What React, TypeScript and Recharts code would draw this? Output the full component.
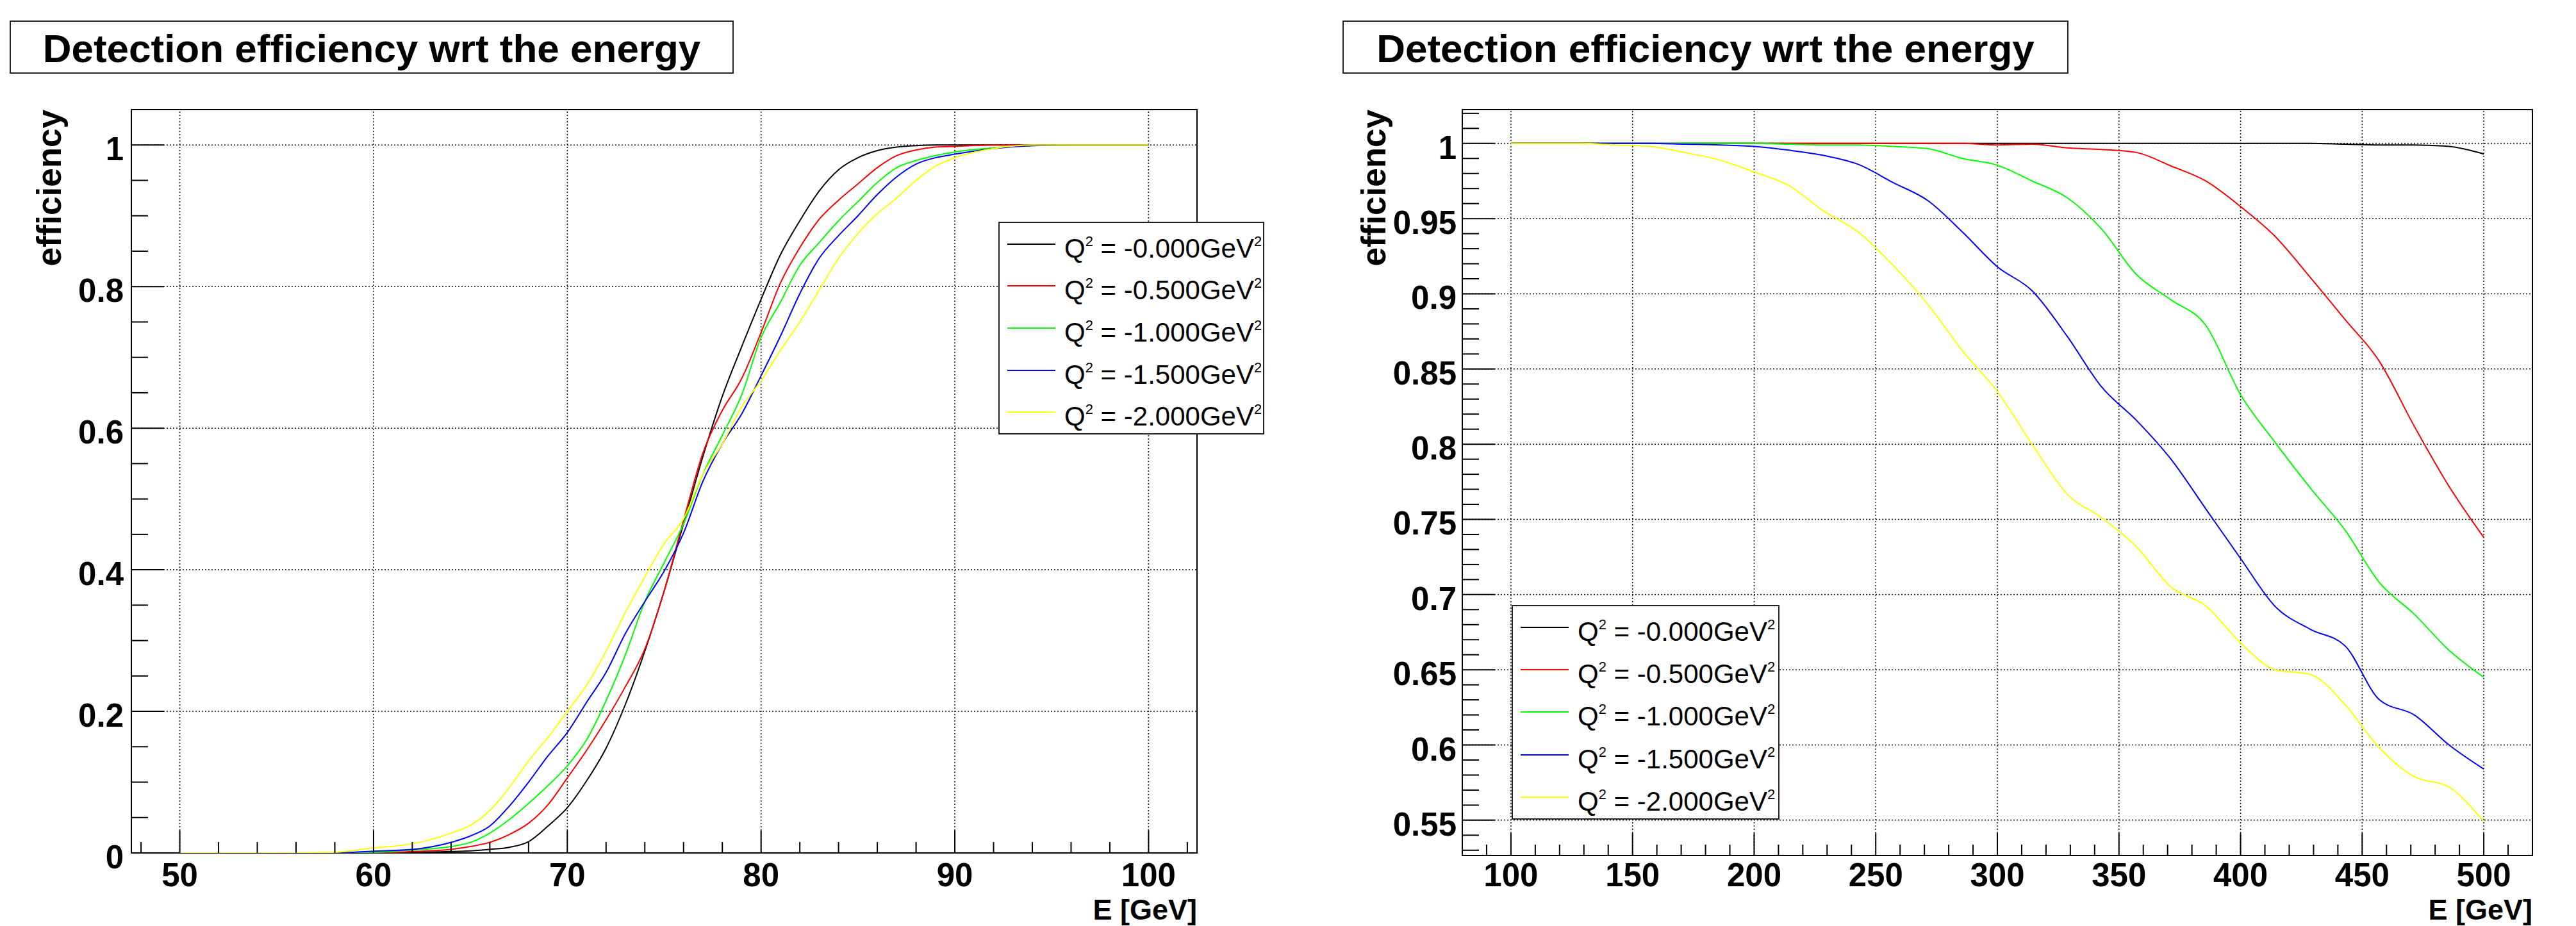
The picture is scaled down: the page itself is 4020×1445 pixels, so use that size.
import React from 'react'
import { LineChart, Line, XAxis, YAxis, ReferenceLine, ReferenceArea, Legend, Label } from 'recharts'

const FONT = '"Liberation Sans", Arial, Helvetica, sans-serif'

// series shared by both pads
const seriesKeys = ['q0', 'q05', 'q10', 'q15', 'q20']
const qLabels = ['-0.000', '-0.500', '-1.000', '-1.500', '-2.000']
const seriesColors = ['#000000', '#ff0000', '#00ff00', '#0000ff', '#ffff00']

// left pad: 50 - 100 GeV
const energyLow = [50, 55, 58, 60, 62, 64, 65, 66, 67, 68, 69, 70, 71, 72, 73, 74, 75, 76, 77, 78, 79, 80, 81, 82, 83, 84, 85, 86, 87, 88, 89, 90, 92, 94, 96, 100]
const lowQ0 = [0, 0, 0, 0, 0.001, 0.002, 0.003, 0.005, 0.008, 0.016, 0.038, 0.064, 0.102, 0.148, 0.21, 0.285, 0.37, 0.465, 0.56, 0.645, 0.715, 0.782, 0.845, 0.893, 0.935, 0.965, 0.982, 0.992, 0.997, 0.999, 1, 1, 1, 1, 1, 1]
const lowQ05 = [0, 0, 0, 0, 0.002, 0.005, 0.009, 0.015, 0.026, 0.042, 0.068, 0.106, 0.145, 0.188, 0.235, 0.288, 0.37, 0.47, 0.565, 0.625, 0.67, 0.735, 0.805, 0.855, 0.895, 0.922, 0.945, 0.968, 0.985, 0.993, 0.997, 0.998, 1, 1, 1, 1]
const lowQ10 = [0, 0, 0, 0.001, 0.004, 0.009, 0.015, 0.028, 0.047, 0.07, 0.095, 0.123, 0.16, 0.215, 0.28, 0.355, 0.41, 0.465, 0.535, 0.59, 0.647, 0.728, 0.778, 0.83, 0.862, 0.893, 0.92, 0.947, 0.968, 0.978, 0.985, 0.99, 0.996, 0.999, 1, 1]
const lowQ15 = [0, 0, 0, 0.0025, 0.005, 0.015, 0.024, 0.038, 0.066, 0.1, 0.137, 0.17, 0.213, 0.255, 0.31, 0.355, 0.398, 0.452, 0.525, 0.578, 0.62, 0.674, 0.73, 0.79, 0.84, 0.872, 0.9, 0.93, 0.955, 0.973, 0.982, 0.987, 0.995, 0.999, 1, 1]
const lowQ20 = [0, 0, 0.001, 0.007, 0.013, 0.028, 0.039, 0.06, 0.092, 0.13, 0.163, 0.2, 0.237, 0.285, 0.34, 0.39, 0.437, 0.472, 0.535, 0.578, 0.63, 0.667, 0.71, 0.75, 0.795, 0.84, 0.875, 0.903, 0.925, 0.95, 0.97, 0.982, 0.995, 1, 1, 1]
const lowXMajor = [50, 60, 70, 80, 90, 100]
const lowYMajor = [0, 0.2, 0.4, 0.6, 0.8, 1]

// right pad: 100 - 500 GeV
const energyHigh = [100, 114.3, 128.6, 142.9, 157.1, 171.4, 185.7, 200, 214.3, 228.6, 242.9, 257.1, 271.4, 285.7, 300, 314.3, 328.6, 342.9, 357.1, 371.4, 385.7, 400, 414.3, 428.6, 442.9, 457.1, 471.4, 485.7, 500]
const highQ0 = [1, 1, 1, 1, 1, 1, 1, 1, 1, 1, 1, 1, 1, 1, 1, 1, 1, 1, 1, 1, 1, 1, 1, 1, 0.9995, 0.999, 0.999, 0.998, 0.993]
const highQ05 = [1, 1, 1, 1, 1, 1, 1, 1, 1, 1, 1, 1, 1, 1, 0.999, 0.9995, 0.997, 0.996, 0.994, 0.985, 0.975, 0.958, 0.938, 0.911, 0.883, 0.855, 0.812, 0.772, 0.738]
const highQ10 = [1, 1, 1, 1, 1, 1, 1, 1, 0.9995, 0.999, 0.999, 0.998, 0.9965, 0.99, 0.9855, 0.975, 0.964, 0.943, 0.913, 0.896, 0.879, 0.833, 0.801, 0.771, 0.743, 0.708, 0.687, 0.663, 0.645]
const highQ15 = [1, 1, 1, 1, 1, 0.9995, 0.999, 0.998, 0.9955, 0.992, 0.986, 0.974, 0.962, 0.941, 0.918, 0.902, 0.872, 0.838, 0.816, 0.79, 0.757, 0.724, 0.692, 0.677, 0.666, 0.63, 0.62, 0.6, 0.584]
const highQ20 = [1, 1, 1, 0.999, 0.998, 0.994, 0.989, 0.981, 0.972, 0.955, 0.941, 0.919, 0.893, 0.862, 0.835, 0.8, 0.767, 0.751, 0.732, 0.705, 0.6925, 0.668, 0.65, 0.647, 0.627, 0.598, 0.579, 0.572, 0.549]
const highXMajor = [100, 150, 200, 250, 300, 350, 400, 450, 500]
const highYMajor = [0.55, 0.6, 0.65, 0.7, 0.75, 0.8, 0.85, 0.9, 0.95, 1]

const steps = (from: number, to: number, step: number) => {
  const out: number[] = []
  const n = Math.round((to - from) / step)
  for (let i = 0; i <= n; i++) out.push(Math.round((from + i * step) * 1e6) / 1e6)
  return out
}

const buildRows = (xs: number[], cols: number[][]) =>
  xs.map((e, i) => {
    const row: any = { e }
    seriesKeys.forEach((k, j) => {
      row[k] = cols[j][i]
    })
    return row
  })

const isMajor = (v: number, majors: number[]) => majors.some((m) => Math.abs(m - v) < 1e-6)

const BottomTick = (props: any) => {
  const { x, y, payload, majors, labelDy } = props
  const major = isMajor(payload.value, majors)
  return (
    <g>
      <line x1={x} x2={x} y1={y} y2={y - (major ? 35 : 17)} stroke="#000" strokeWidth={2} />
      {major && (
        <text x={x} y={y + labelDy} textAnchor="middle" fontFamily={FONT} fontWeight="bold" fontSize={51} fill="#000">
          {payload.value}
        </text>
      )}
    </g>
  )
}

const LeftTick = (props: any) => {
  const { x, y, payload, majors, gap } = props
  const major = isMajor(payload.value, majors)
  return (
    <g>
      <line x1={x} x2={x + (major ? 51 : 26)} y1={y} y2={y} stroke="#000" strokeWidth={2} />
      {major && (
        <text x={x - gap} y={y + 24} textAnchor="end" fontFamily={FONT} fontWeight="bold" fontSize={51} fill="#000">
          {payload.value}
        </text>
      )}
    </g>
  )
}

const LegendBox = ({ payload, width, height }: any) => {
  const rowH = (height - 4) / 5
  return (
    <div
      style={{
        width,
        height,
        boxSizing: 'border-box',
        border: '2px solid #222',
        background: '#fff',
        fontFamily: FONT,
        color: '#000',
      }}
    >
      {(payload || []).map((entry: any, i: number) => (
        <div key={i} style={{ position: 'relative', height: rowH }}>
          <div style={{ position: 'absolute', left: 12, top: rowH / 2 - 1, width: 75, height: 2, background: entry.color }} />
          <div style={{ position: 'absolute', left: 101, top: rowH / 2 - 14, fontSize: 42, lineHeight: '42px', whiteSpace: 'nowrap' }}>
            Q<span style={{ fontSize: 22, position: 'relative', top: -18 }}>2</span> = {entry.value}GeV
            <span style={{ fontSize: 22, position: 'relative', top: -18 }}>2</span>
          </div>
        </div>
      ))}
    </div>
  )
}

type PadProps = {
  rows: any[]
  xDomain: [number, number]
  yDomain: [number, number]
  xTicks: number[]
  xMajor: number[]
  yTicks: number[]
  yMajor: number[]
  plot: { left: number; top: number; right: number; bottom: number }
  xLabelDy: number
  yGap: number
  yTitleOffset: number
  legend: { left: number; top: number; width: number; height: number }
}

const W = 2010
const H = 1445

const Pad = (p: PadProps) => {
  const margin = {
    top: p.plot.top,
    right: W - p.plot.right,
    bottom: H - p.plot.bottom - 60,
    left: p.plot.left - 100,
  }
  return (
    <LineChart width={W} height={H} data={p.rows} margin={margin}>
      <XAxis
        dataKey="e"
        type="number"
        domain={p.xDomain}
        allowDataOverflow
        ticks={p.xTicks}
        interval={0}
        tickSize={0}
        tickMargin={0}
        axisLine={false}
        tickLine={false}
        height={60}
        tick={(t: any) => <BottomTick {...t} majors={p.xMajor} labelDy={p.xLabelDy} />}
      >
        <Label
          content={(lp: any) => {
            const vb = lp.viewBox
            return (
              <text x={vb.x + vb.width} y={H - 10} textAnchor="end" fontFamily={FONT} fontWeight="bold" fontSize={45} fill="#000">
                E [GeV]
              </text>
            )
          }}
        />
      </XAxis>
      <YAxis
        type="number"
        domain={p.yDomain}
        allowDataOverflow
        ticks={p.yTicks}
        interval={0}
        tickSize={0}
        tickMargin={0}
        axisLine={false}
        tickLine={false}
        width={100}
        tick={(t: any) => <LeftTick {...t} majors={p.yMajor} gap={p.yGap} />}
      >
        <Label
          content={(lp: any) => {
            const vb = lp.viewBox
            const bx = vb.x + vb.width - p.yTitleOffset
            return (
              <text
                transform={`translate(${bx},${vb.y}) rotate(-90)`}
                textAnchor="end"
                fontFamily={FONT}
                fontWeight="bold"
                fontSize={53}
                fill="#000"
              >
                efficiency
              </text>
            )
          }}
        />
      </YAxis>
      {p.xMajor.map((v) => (
        <ReferenceLine key={'gx' + v} x={v} stroke="#111" strokeDasharray="2 3" strokeWidth={1.5} />
      ))}
      {p.yMajor
        .filter((v) => v > p.yDomain[0])
        .map((v) => (
          <ReferenceLine key={'gy' + v} y={v} stroke="#111" strokeDasharray="2 3" strokeWidth={1.5} />
        ))}
      {seriesKeys.map((k, i) => (
        <Line
          key={k}
          dataKey={k}
          name={qLabels[i]}
          type="monotone"
          stroke={seriesColors[i]}
          strokeWidth={2}
          dot={false}
          isAnimationActive={false}
        />
      ))}
      <ReferenceArea
        x1={p.xDomain[0]}
        x2={p.xDomain[1]}
        y1={p.yDomain[0]}
        y2={p.yDomain[1]}
        fill="none"
        fillOpacity={0}
        stroke="#000"
        strokeWidth={2}
        ifOverflow="visible"
      />
      <Legend
        layout="vertical"
        align="center"
        verticalAlign="middle"
        wrapperStyle={{ left: p.legend.left, top: p.legend.top, width: p.legend.width, height: p.legend.height }}
        content={(lp: any) => <LegendBox payload={lp.payload} width={p.legend.width} height={p.legend.height} />}
      />
    </LineChart>
  )
}

const TitleBox = ({ left, width }: { left: number; width: number }) => (
  <div
    style={{
      position: 'absolute',
      left,
      top: 32,
      width,
      height: 83,
      boxSizing: 'border-box',
      border: '2px solid #222',
      background: '#fff',
      fontFamily: FONT,
      fontWeight: 'bold',
      fontSize: 62,
      lineHeight: '79px',
      paddingTop: 2,
      textAlign: 'center',
      color: '#000',
      whiteSpace: 'nowrap',
    }}
  >
    Detection efficiency wrt the energy
  </div>
)

export default function App() {
  const lowRows = buildRows(energyLow, [lowQ0, lowQ05, lowQ10, lowQ15, lowQ20])
  const highRows = buildRows(energyHigh, [highQ0, highQ05, highQ10, highQ15, highQ20])
  return (
    <div style={{ position: 'absolute', left: 0, top: 0, width: 4020, height: 1445, background: '#fff', overflow: 'hidden' }}>
      <div style={{ position: 'absolute', left: 0, top: 0 }}>
        <Pad
          rows={lowRows}
          xDomain={[47.5, 102.5]}
          yDomain={[0, 1.05]}
          xTicks={steps(48, 102, 2)}
          xMajor={lowXMajor}
          yTicks={steps(0, 1, 0.05)}
          yMajor={lowYMajor}
          plot={{ left: 205, top: 171, right: 1868, bottom: 1331 }}
          xLabelDy={52}
          yGap={12}
          yTitleOffset={110}
          legend={{ left: 1558, top: 346, width: 415, height: 332 }}
        />
      </div>
      <div style={{ position: 'absolute', left: 2010, top: 0 }}>
        <Pad
          rows={highRows}
          xDomain={[80, 520]}
          yDomain={[0.5265, 1.0225]}
          xTicks={steps(90, 520, 10)}
          xMajor={highXMajor}
          yTicks={steps(0.53, 1.02, 0.01)}
          yMajor={highYMajor}
          plot={{ left: 272, top: 171, right: 1942, bottom: 1335 }}
          xLabelDy={48}
          yGap={9}
          yTitleOffset={120}
          legend={{ left: 349, top: 944, width: 418, height: 335 }}
        />
      </div>
      <TitleBox left={15} width={1130} />
      <TitleBox left={2095} width={1133} />
    </div>
  )
}
